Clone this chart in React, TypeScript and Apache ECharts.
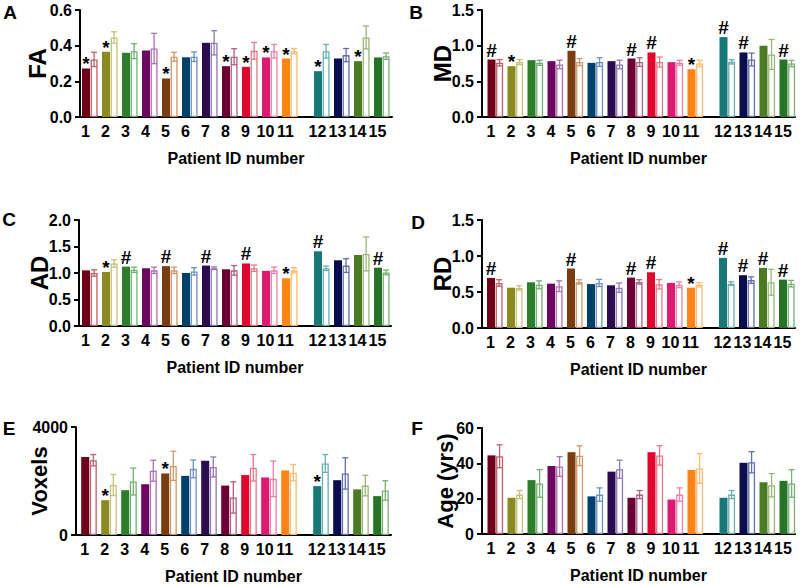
import React, { useEffect, useRef } from "react";
import * as echarts from "echarts";

const patientIds = ["1", "2", "3", "4", "5", "6", "7", "8", "9", "10", "11", "12", "13", "14", "15"];

const patientColors = [
  "#6e0019", "#8a8a22", "#2e7d2c", "#6b0760", "#7b3c12", "#00406b", "#2b0c50", "#6c0034",
  "#e0062d", "#dc1a70", "#ff8418", "#1a7777", "#0b0e4e", "#4b7a25", "#277327",
];
const controlColors = [
  "#c0606e", "#c8c078", "#72b070", "#b070b0", "#d09868", "#7090c0", "#9078b8", "#b06080",
  "#e87888", "#ec80a8", "#ffbb70", "#68b0b0", "#6070b0", "#98b878", "#78b078",
];

// FA
const faPatient = [0.272, 0.366, 0.36, 0.373, 0.216, 0.335, 0.416, 0.285, 0.281, 0.334, 0.328, 0.257, 0.328, 0.313, 0.334];
const faControl = [0.323, 0.446, 0.369, 0.384, 0.338, 0.338, 0.416, 0.338, 0.371, 0.369, 0.369, 0.369, 0.347, 0.446, 0.341];
const faSd = [0.04, 0.032, 0.042, 0.085, 0.025, 0.027, 0.068, 0.045, 0.047, 0.038, 0.015, 0.038, 0.037, 0.064, 0.018];
const faMarks = ["*", "*", "", "", "*", "", "", "*", "*", "*", "*", "*", "", "*", ""];

// MD
const mdPatient = [0.806, 0.713, 0.797, 0.783, 0.928, 0.759, 0.783, 0.82, 0.905, 0.769, 0.67, 1.12, 0.905, 0.999, 0.806];
const mdControl = [0.76, 0.77, 0.76, 0.736, 0.77, 0.77, 0.736, 0.77, 0.77, 0.76, 0.75, 0.773, 0.806, 0.877, 0.75];
const mdSd = [0.045, 0.035, 0.035, 0.06, 0.05, 0.06, 0.06, 0.06, 0.07, 0.035, 0.045, 0.03, 0.09, 0.21, 0.045];
const mdMarks = ["#", "*", "", "", "#", "", "", "#", "#", "", "*", "#", "#", "", "#"];

// AD
const adPatient = [1.05, 1.02, 1.12, 1.09, 1.13, 1.0, 1.14, 1.07, 1.18, 1.04, 0.9, 1.41, 1.24, 1.34, 1.1];
const adControl = [1.0, 1.18, 1.06, 1.05, 1.05, 1.03, 1.09, 1.05, 1.09, 1.05, 1.05, 1.09, 1.14, 1.36, 1.01];
const adSd = [0.06, 0.07, 0.05, 0.06, 0.06, 0.07, 0.025, 0.09, 0.06, 0.06, 0.05, 0.04, 0.13, 0.32, 0.045];
const adMarks = ["", "*", "#", "", "#", "", "#", "", "#", "", "*", "#", "", "", "#"];

// RD
const rdPatient = [0.695, 0.56, 0.635, 0.616, 0.826, 0.61, 0.593, 0.7, 0.774, 0.626, 0.56, 0.974, 0.733, 0.835, 0.672];
const rdControl = [0.626, 0.556, 0.6, 0.58, 0.64, 0.626, 0.56, 0.64, 0.607, 0.6, 0.6, 0.616, 0.665, 0.635, 0.616];
const rdSd = [0.045, 0.03, 0.055, 0.075, 0.03, 0.05, 0.065, 0.03, 0.065, 0.04, 0.03, 0.025, 0.045, 0.18, 0.045];
const rdMarks = ["#", "", "", "", "#", "", "", "#", "#", "", "*", "#", "#", "#", "#"];

// Voxels
const voxPatient = [2890, 1290, 1660, 1880, 2280, 2190, 2750, 1830, 2220, 2130, 2390, 1810, 2030, 1690, 1440];
const voxControl = [2770, 1850, 1980, 2380, 2560, 2450, 2520, 1390, 2490, 2080, 2310, 2650, 2280, 1830, 1650];
const voxSd = [210, 390, 500, 390, 540, 330, 370, 580, 490, 660, 300, 330, 580, 380, 360];
const voxMarks = ["", "*", "", "", "*", "", "", "", "", "", "", "*", "", "", ""];

// Age
const agePatient = [44.5, 20.5, 30.5, 38.5, 46.3, 21.3, 35.3, 20.5, 46.3, 19.5, 36.3, 20.5, 40.3, 29.3, 30.1];
const ageControl = [44.0, 22.3, 28.6, 38.2, 44.3, 22.3, 36.7, 22.3, 44.5, 22.3, 37.1, 22.3, 40.6, 27.6, 28.6];
const ageSd = [6.5, 2.3, 7.8, 5.6, 5.6, 3.8, 5.1, 2.3, 5.5, 3.8, 8.4, 2.3, 6.0, 6.6, 7.8];
const ageMarks = ["", "", "", "", "", "", "", "", "", "", "", "", "", "", ""];

const GAP_AFTER = 11;
const GAP = 0.6;
const OPEN_OFFSET = 0.43;
const UNIT_PX = 20;
const FONT = "'Liberation Sans', Arial, sans-serif";

const positions = patientIds.map((_, i) => i + 1 + (i >= GAP_AFTER ? GAP : 0));

type Panel = {
  letter: string;
  name: string;
  nameSize: number;
  nameGap: number;
  patient: number[];
  control: number[];
  sd: number[];
  marks: string[];
  yMax: number;
  yInterval: number;
  decimals: number;
  left: number;
  top: number;
  height: number;
  width: number;
  first: number;
  letterX: number;
  letterY: number;
};

const panels: Panel[] = [
  { letter: "A", name: "FA", nameSize: 24, nameGap: 31, patient: faPatient, control: faControl, sd: faSd, marks: faMarks, yMax: 0.6, yInterval: 0.2, decimals: 1, left: 80, top: 10, height: 107, width: 312, first: 85.5, letterX: 10, letterY: 12 },
  { letter: "B", name: "MD", nameSize: 24, nameGap: 28, patient: mdPatient, control: mdControl, sd: mdSd, marks: mdMarks, yMax: 1.5, yInterval: 0.5, decimals: 1, left: 482, top: 10, height: 107, width: 313, first: 491, letterX: 416, letterY: 12 },
  { letter: "C", name: "AD", nameSize: 24, nameGap: 28, patient: adPatient, control: adControl, sd: adSd, marks: adMarks, yMax: 2.0, yInterval: 0.5, decimals: 1, left: 79, top: 220, height: 106, width: 312, first: 85.5, letterX: 9, letterY: 219 },
  { letter: "D", name: "RD", nameSize: 24, nameGap: 28, patient: rdPatient, control: rdControl, sd: rdSd, marks: rdMarks, yMax: 1.5, yInterval: 0.5, decimals: 1, left: 482, top: 220, height: 108, width: 313, first: 490.5, letterX: 418, letterY: 222 },
  { letter: "E", name: "Voxels", nameSize: 22, nameGap: 26, patient: voxPatient, control: voxControl, sd: voxSd, marks: voxMarks, yMax: 4000, yInterval: 4000, decimals: 0, left: 76, top: 427, height: 108, width: 315, first: 84.7, letterX: 9, letterY: 428 },
  { letter: "F", name: "Age (yrs)", nameSize: 22, nameGap: 26, patient: agePatient, control: ageControl, sd: ageSd, marks: ageMarks, yMax: 60, yInterval: 20, decimals: 0, left: 482, top: 428, height: 106, width: 313, first: 491, letterX: 417, letterY: 428 },
];

function buildOption() {
  const grid: any[] = [];
  const xAxis: any[] = [];
  const yAxis: any[] = [];
  const series: any[] = [];
  const graphic: any[] = [];

  panels.forEach((p, k) => {
    grid.push({ left: p.left, top: p.top, width: p.width, height: p.height, containLabel: false });
    const min = 1 - (p.first - p.left) / UNIT_PX;
    const max = min + p.width / UNIT_PX;
    xAxis.push({
      type: "value",
      gridIndex: k,
      min,
      max,
      name: "Patient ID number",
      nameLocation: "middle",
      nameGap: 33,
      nameMoveOverlap: false,
      nameTextStyle: { fontSize: 16, fontWeight: "bold", color: "#000", fontFamily: FONT },
      axisLine: { show: true, onZero: false, lineStyle: { color: "#000", width: 2 } },
      axisTick: { show: false },
      splitLine: { show: false },
      axisLabel: {
        customValues: positions,
        margin: 6,
        fontSize: 16,
        fontWeight: "bold",
        color: "#000",
        fontFamily: FONT,
        formatter: (v: number) => {
          const idx = positions.findIndex((q) => Math.abs(q - v) < 0.01);
          return idx >= 0 ? patientIds[idx] : "";
        },
      },
    });
    yAxis.push({
      type: "value",
      gridIndex: k,
      min: 0,
      max: p.yMax,
      interval: p.yInterval,
      name: p.name,
      nameLocation: "middle",
      nameGap: p.nameGap,
      nameRotate: 90,
      nameMoveOverlap: false,
      nameTextStyle: { fontSize: p.nameSize, fontWeight: "bold", color: "#000", fontFamily: FONT },
      axisLine: { show: true, lineStyle: { color: "#000", width: 2 } },
      axisTick: { show: true, inside: false, length: 5, lineStyle: { color: "#000", width: 2 } },
      splitLine: { show: false },
      axisLabel: {
        margin: 8,
        fontSize: 16,
        fontWeight: "bold",
        color: "#000",
        fontFamily: FONT,
        formatter: (v: number) => v.toFixed(p.decimals),
      },
    });

    series.push({
      type: "bar",
      xAxisIndex: k,
      yAxisIndex: k,
      barWidth: 8,
      barGap: "-100%",
      z: 2,
      data: p.patient.map((v, i) => ({
        value: [positions[i], v],
        itemStyle: { color: patientColors[i] },
        label: p.marks[i]
          ? {
              show: true,
              formatter: p.marks[i],
              position: "top",
              distance: p.marks[i] === "*" ? -5 : 0,
              fontSize: 19,
              fontWeight: "bold",
              color: "#000",
              fontFamily: FONT,
            }
          : { show: false },
      })),
    });
    series.push({
      type: "bar",
      xAxisIndex: k,
      yAxisIndex: k,
      barWidth: 7,
      barGap: "-100%",
      z: 2,
      data: p.control.map((v, i) => ({
        value: [positions[i] + OPEN_OFFSET, v],
        itemStyle: { color: "#ffffff", borderColor: controlColors[i], borderWidth: 1.3 },
      })),
    });
    series.push({
      type: "custom",
      xAxisIndex: k,
      yAxisIndex: k,
      z: 3,
      encode: { x: 0, y: 1 },
      data: p.control.map((v, i) => [positions[i] + OPEN_OFFSET, v, p.sd[i]]),
      renderItem: (params: any, api: any) => {
        const x = api.value(0);
        const m = api.value(1);
        const s = api.value(2);
        const t = api.coord([x, m + s]);
        const b = api.coord([x, m - s]);
        const c = controlColors[params.dataIndex];
        const h = 3;
        const st = { stroke: c, lineWidth: 1.3 };
        return {
          type: "group",
          children: [
            { type: "line", shape: { x1: t[0], y1: t[1], x2: b[0], y2: b[1] }, style: st },
            { type: "line", shape: { x1: t[0] - h, y1: t[1], x2: t[0] + h, y2: t[1] }, style: st },
            { type: "line", shape: { x1: b[0] - h, y1: b[1], x2: b[0] + h, y2: b[1] }, style: st },
          ],
        };
      },
    });

    graphic.push({
      type: "text",
      x: p.letterX,
      y: p.letterY,
      style: {
        text: p.letter,
        fontSize: 19,
        fontWeight: "bold",
        fill: "#000",
        fontFamily: FONT,
        align: "center",
        verticalAlign: "middle",
      },
    });
  });

  return {
    animation: false,
    backgroundColor: "#ffffff",
    textStyle: { fontFamily: FONT },
    grid,
    xAxis,
    yAxis,
    series,
    graphic,
  };
}

export default function App() {
  const ref = useRef<HTMLDivElement>(null);
  useEffect(() => {
    if (!ref.current) return;
    const chart = echarts.init(ref.current, undefined, { renderer: "svg" });
    chart.setOption(buildOption() as any);
    return () => chart.dispose();
  }, []);
  return (
    <div
      ref={ref}
      style={{ position: "fixed", left: 0, top: 0, width: 800, height: 585, background: "#fff" }}
    />
  );
}
